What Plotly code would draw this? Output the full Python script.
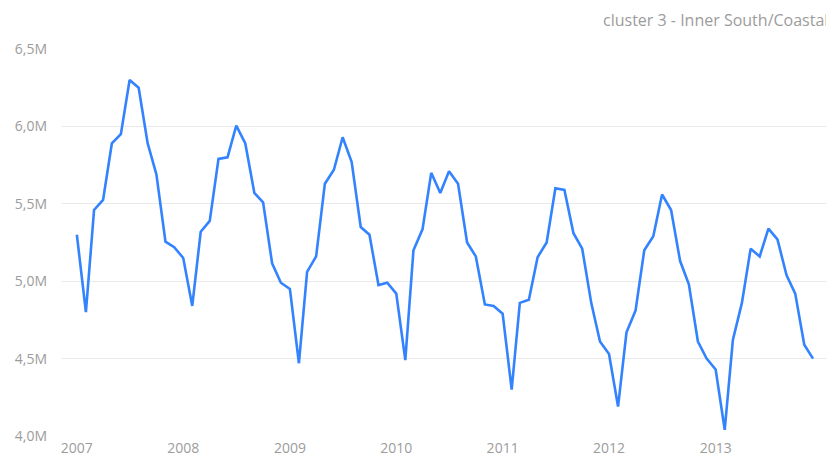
import plotly.graph_objects as go
import pandas as pd

months = pd.date_range("2007-01-01", "2013-12-01", freq="MS")

values_2007 = [5.30, 4.80, 5.46, 5.525, 5.89, 5.95, 6.30, 6.25, 5.89, 5.69, 5.255, 5.22]
values_2008 = [5.15, 4.84, 5.32, 5.39, 5.79, 5.80, 6.005, 5.89, 5.57, 5.51, 5.115, 4.99]
values_2009 = [4.95, 4.47, 5.06, 5.16, 5.63, 5.72, 5.93, 5.77, 5.35, 5.30, 4.975, 4.99]
values_2010 = [4.92, 4.49, 5.20, 5.335, 5.70, 5.57, 5.71, 5.63, 5.25, 5.16, 4.85, 4.84]
values_2011 = [4.79, 4.30, 4.86, 4.88, 5.155, 5.25, 5.60, 5.59, 5.31, 5.21, 4.86, 4.61]
values_2012 = [4.53, 4.19, 4.67, 4.81, 5.20, 5.29, 5.56, 5.46, 5.13, 4.98, 4.61, 4.50]
values_2013 = [4.43, 4.04, 4.62, 4.86, 5.21, 5.16, 5.34, 5.27, 5.04, 4.92, 4.59, 4.50]

values_m = (values_2007 + values_2008 + values_2009 + values_2010
            + values_2011 + values_2012 + values_2013)
values = [v * 1e6 for v in values_m]

title_text = "cluster 3 - Inner South/Coastal"

fig = go.Figure()
fig.add_trace(go.Scatter(
    x=months, y=values, mode="lines",
    line=dict(color="#3383FF", width=2.6),
    hoverinfo="x+y",
))

# page body has an 8px margin, so the figure is sized to fit the window
fig.update_layout(
    width=826, height=457,
    margin=dict(l=54, r=7, t=41, b=29),
    paper_bgcolor="white", plot_bgcolor="white",
    separators=", ",
    font=dict(family="Open Sans, Noto Sans, sans-serif", size=14, color="#9c9c9c"),
    showlegend=False,
    xaxis=dict(
        type="date",
        range=["2006-11-11", "2014-01-18"],
        tickformat="%Y", dtick="M12", tick0="2007-01-01",
        showgrid=False, zeroline=False, showline=False,
        ticks="", ticklabelstandoff=2,
        tickfont=dict(size=14, color="#9c9c9c"),
    ),
    yaxis=dict(
        range=[4.0e6, 6.5e6],
        tickvals=[4.0e6, 4.5e6, 5.0e6, 5.5e6, 6.0e6, 6.5e6],
        tickformat=".2s",
        showgrid=True, gridcolor="#e9e9e9", gridwidth=1,
        zeroline=False, showline=False, ticks="",
        ticklabelstandoff=14,
        tickfont=dict(size=14, color="#9c9c9c"),
    ),
    annotations=[dict(
        text=title_text, xref="paper", yref="paper",
        x=1.004, y=1.075, xanchor="right", yanchor="middle",
        showarrow=False, font=dict(size=16, color="#9c9c9c"),
    )],
)

fig.write_html("out.html")
